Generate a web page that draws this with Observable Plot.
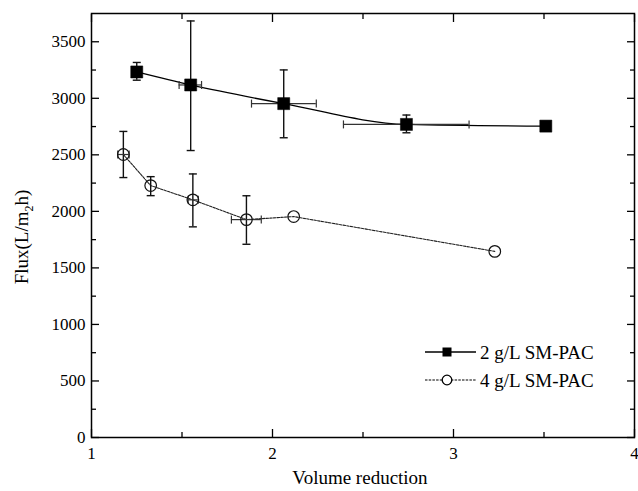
<!DOCTYPE html>
<html><head><meta charset="utf-8">
<script src="https://cdn.jsdelivr.net/npm/d3@7"></script>
<script src="https://cdn.jsdelivr.net/npm/@observablehq/plot@0.6"></script>
<style>
body{margin:0;background:#fff;}
#wrap{position:relative;width:638px;height:491px;}
</style></head><body><div id="wrap"></div>
<script>
// ---- data ----
const seriesNames = ["2 g/L SM-PAC", "4 g/L SM-PAC"];
const sqX   = [1.25, 1.548, 2.062, 2.74, 3.51];
const sqY   = [3233, 3118, 2953, 2769, 2754];
const sqYLo = [3160, 2538, 2651, 2695, null];
const sqYHi = [3317, 3684, 3251, 2852, null];
const sqXLo = [null, 1.484, 1.884, 2.392, null];
const sqXHi = [null, 1.608, 2.242, 3.086, null];
const ciX   = [1.176, 1.327, 1.56, 1.856, 2.117, 3.228];
const ciY   = [2503, 2228, 2102, 1927, 1954, 1646];
const ciYLo = [2299, 2139, 1863, 1709, null, null];
const ciYHi = [2707, 2307, 2331, 2138, null, null];
const ciXLo = [1.145, null, 1.534, 1.773, null, null];
const ciXHi = [1.208, null, 1.590, 1.938, null, null];
const xTicks = [1, 2, 3, 4];
const xMinor = [1.5, 2.5, 3.5];
const yTicks = [0, 500, 1000, 1500, 2000, 2500, 3000, 3500];
const yMinor = [250, 750, 1250, 1750, 2250, 2750, 3250];
const xLabel = "Volume reduction";

// ---- tables ----
const mk = (X, Y, YL, YH, XL, XH) => X.map((x, i) => ({x, y: Y[i], yl: YL[i], yh: YH[i], xl: XL[i], xh: XH[i]}));
const sq = mk(sqX, sqY, sqYLo, sqYHi, sqXLo, sqXHi);
const ci = mk(ciX, ciY, ciYLo, ciYHi, ciXLo, ciXHi);
const yErr = [...sq, ...ci].filter(d => d.yl != null);
const xErr = [...sq, ...ci].filter(d => d.xl != null);

const hCap = {draw(ctx, size) { const r = Math.sqrt(size / Math.PI); ctx.moveTo(-r, 0); ctx.lineTo(r, 0); }};
const vCap = {draw(ctx, size) { const r = Math.sqrt(size / Math.PI); ctx.moveTo(0, -r); ctx.lineTo(0, r); }};
const blank = () => "";
const plain = d => String(d);
const ff = "'Liberation Serif','Times New Roman',serif";

const chart = Plot.plot({
  width: 638, height: 491,
  marginLeft: 91, marginRight: 4, marginTop: 13, marginBottom: 54,
  style: {background: "white", color: "black"},
  x: {domain: [1, 4]},
  y: {domain: [0, 3750]},
  marks: [
    Plot.frame({stroke: "black", strokeWidth: 1.5}),
    // tick labels
    Plot.axisX({ticks: xTicks, tickSize: 0, tickPadding: 9, tickFormat: plain, label: null, fontFamily: ff, fontSize: 17}),
    Plot.axisY({ticks: yTicks, tickSize: 0, tickPadding: 6, tickFormat: plain, label: null, fontFamily: ff, fontSize: 17}),
    // inward ticks
    Plot.axisX({anchor: "bottom", ticks: xTicks, tickSize: -8, tickFormat: blank, label: null, strokeWidth: 1.3}),
    Plot.axisX({anchor: "bottom", ticks: xMinor, tickSize: -5, tickFormat: blank, label: null, strokeWidth: 1.3}),
    Plot.axisX({anchor: "top", ticks: xTicks, tickSize: -8, tickFormat: blank, label: null, strokeWidth: 1.3}),
    Plot.axisX({anchor: "top", ticks: xMinor, tickSize: -5, tickFormat: blank, label: null, strokeWidth: 1.3}),
    Plot.axisY({anchor: "left", ticks: yTicks, tickSize: -8, tickFormat: blank, label: null, strokeWidth: 1.3}),
    Plot.axisY({anchor: "left", ticks: yMinor, tickSize: -5, tickFormat: blank, label: null, strokeWidth: 1.3}),
    Plot.axisY({anchor: "right", ticks: yTicks, tickSize: -8, tickFormat: blank, label: null, strokeWidth: 1.3}),
    Plot.axisY({anchor: "right", ticks: yMinor, tickSize: -5, tickFormat: blank, label: null, strokeWidth: 1.3}),
    // lines
    Plot.line(sq, {x: "x", y: "y", curve: "monotone-x", stroke: "black", strokeWidth: 1.3}),
    Plot.line(ci, {x: "x", y: "y", curve: "linear", stroke: "#222", strokeWidth: 1.1, strokeDasharray: "2.5,1.2"}),
    // error bars
    Plot.ruleX(yErr, {x: "x", y1: "yl", y2: "yh", stroke: "#111", strokeWidth: 1.4}),
    Plot.dot(yErr, {x: "x", y: "yl", symbol: hCap, r: 4, stroke: "#111", strokeWidth: 1.4}),
    Plot.dot(yErr, {x: "x", y: "yh", symbol: hCap, r: 4, stroke: "#111", strokeWidth: 1.4}),
    Plot.ruleY(xErr, {y: "y", x1: "xl", x2: "xh", stroke: "#333", strokeWidth: 1.2}),
    Plot.dot(xErr, {x: "xl", y: "y", symbol: vCap, r: 4, stroke: "#333", strokeWidth: 1.2}),
    Plot.dot(xErr, {x: "xh", y: "y", symbol: vCap, r: 4, stroke: "#333", strokeWidth: 1.2}),
    // points
    Plot.dot(sq, {x: "x", y: "y", symbol: "square", r: 6.8, fill: "black", stroke: "black", strokeWidth: 0.5}),
    Plot.dot(ci, {x: "x", y: "y", r: 5.8, fill: "white", fillOpacity: 0, stroke: "#111", strokeWidth: 1.2})
  ]
});

document.getElementById("wrap").appendChild(chart);
const svg = d3.select(chart);
svg.selectAll("text").style("font-family", ff).style("font-size", "17px");
// x axis label
svg.append("text").attr("x", 360).attr("y", 484).attr("text-anchor", "middle")
  .style("font-family", ff).style("font-size", "19px").attr("fill", "black").text(xLabel);
// y axis label with subscript
const yl = svg.append("text").attr("transform", "translate(28,237) rotate(-90)").attr("text-anchor", "middle")
  .style("font-family", ff).style("font-size", "19px").attr("fill", "black");
yl.append("tspan").text("Flux(L/m");
yl.append("tspan").style("font-size", "12px").attr("dy", 5).text("2");
yl.append("tspan").attr("dy", -5).text("h)");
// legend
const lg = svg.append("g").attr("text-anchor", "start");
const rows = [{y: 352, dash: null, sym: "square"}, {y: 380, dash: "2.5,1.2", sym: "circle"}];
rows.forEach((r, i) => {
  lg.append("line").attr("x1", 425).attr("x2", 476).attr("y1", r.y).attr("y2", r.y)
    .attr("stroke", "black").attr("stroke-width", i ? 1.1 : 1.3).attr("stroke-dasharray", r.dash);
  if (r.sym === "square") lg.append("rect").attr("x", 442.5).attr("y", r.y - 4.5).attr("width", 9).attr("height", 9).attr("fill", "black");
  else lg.append("circle").attr("cx", 447).attr("cy", r.y).attr("r", 4.8).attr("fill", "white").attr("stroke", "black").attr("stroke-width", 1.3);
  lg.append("text").attr("x", 480).attr("y", r.y).attr("dy", "0.35em").attr("fill", "black")
    .style("font-family", ff).style("font-size", "19px").text(seriesNames[i]);
});
</script></body></html>
